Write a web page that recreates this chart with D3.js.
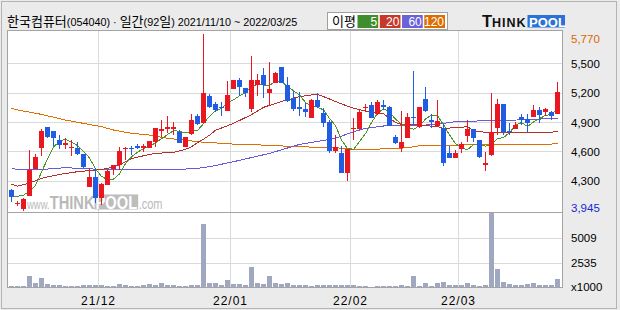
<!DOCTYPE html>
<html>
<head>
<meta charset="utf-8">
<script src="https://cdn.jsdelivr.net/npm/d3@7"></script>
<style>
  body { margin: 0; background: #ebebeb; }
  svg { display: block; }
  text { font-family: "Liberation Sans", Arial, "Noto Sans CJK KR", sans-serif; }
</style>
</head>
<body>
<div id="graf"></div>
<script>
// Datos (precio diario, 92 sesiones)
const opens = [4204,4062,4010,4146,4419,4637,4844,4807,4715,4664,
  4630,4637,4572,4238,4334,4119,4255,4419,4460,4620,
  4637,4654,4630,4637,4698,4808,4828,4830,4801,4640,
  4777,4960,4892,5166,5080,5057,5016,5237,5329,5251,
  5033,5278,5380,5200,5302,5462,5278,5142,5050,5033,
  4937,5125,4988,4896,4603,4586,4381,4830,4828,5040,
  5074,4978,5074,5057,4750,4630,4739,4954,4852,5135,
  4920,4862,4835,4579,4531,4623,4757,4828,4715,4460,
  4562,4835,5084,4808,4828,4954,4926,4954,5023,5006,
  4998,4978]
const highs = [4215,4090,4120,4613,4569,4828,4850,4810,4767,4733,
  4716,4698,4575,4425,4425,4272,4408,4460,4647,4644,
  4654,4671,4671,4705,4835,4920,4964,4903,4818,4743,
  4977,4977,5803,5183,5108,5108,5318,5329,5353,5251,
  5575,5387,5449,5517,5415,5462,5360,5217,5210,5091,
  5135,5193,5047,4920,4766,4657,4623,4937,5023,5081,
  5101,5125,5125,5064,4767,5013,4988,5421,5057,5258,
  4978,5125,4880,4657,4613,4698,4920,4828,4715,4596,
  5193,5135,5084,4886,4896,4978,4978,5074,5050,5047,
  5013,5306]
const lows = [4085,4038,3993,4146,4419,4552,4740,4650,4620,4623,
  4555,4562,4426,4238,4075,4051,4255,4357,4408,4510,
  4562,4620,4596,4630,4647,4750,4784,4767,4681,4640,
  4767,4869,4892,5040,5006,4964,5016,5237,5169,5152,
  4998,5166,5142,5060,5302,5295,5101,5013,4964,4954,
  4937,5047,4852,4579,4579,4374,4296,4715,4828,4998,
  4937,4971,5023,4862,4675,4596,4739,4869,4842,4998,
  4842,4862,4452,4528,4528,4579,4698,4692,4528,4401,
  4555,4767,4767,4767,4828,4869,4801,4954,4886,4964,
  4920,4978]
const closes = [4130,4072,4112,4408,4538,4807,4746,4732,4664,4681,
  4647,4569,4436,4334,4119,4265,4401,4460,4603,4637,
  4620,4630,4650,4705,4835,4825,4845,4845,4681,4743,
  4920,4879,5193,5057,5020,5050,5176,5329,5261,5193,
  5329,5329,5278,5237,5404,5302,5115,5033,5037,5006,
  5125,5057,4892,4603,4647,4381,4623,4840,5006,5057,
  4944,5101,5057,4862,4681,4698,4947,4937,5050,5016,
  4903,4910,4483,4528,4579,4671,4828,4733,4545,4483,
  4794,5084,4801,4794,4869,4920,4892,5023,4971,5033,
  4964,5203]
// Volumen en miles
const volumes = [229,229,229,1219,526,1021,427,328,328,229,
  229,229,328,328,328,300,229,229,427,328,
  229,229,328,427,328,526,328,328,229,229,
  328,328,6365,526,526,328,823,427,427,328,
  2110,526,427,1219,526,427,526,328,328,328,
  229,328,328,328,328,328,328,328,229,229,
  61,229,229,229,229,328,229,1150,229,526,
  229,526,625,328,328,328,526,328,229,328,
  7483,1912,625,427,328,328,427,526,328,328,
  328,922]
// Cierres previos estimados (para la media de 5)
const preCloses = [4050, 4050, 4220, 4230]
// Medias [índice, valor]
const ma20 = [[0,4262],[1,4245],[3,4275],[5,4325],[8,4364],[11,4392],[14,4408],[16,4425],[18,4460],[20,4525],
  [22,4555],[24,4579],[27,4590],[29,4620],[30,4647],[31,4690],[32,4725],[33,4765],[34,4815],[37,4886],
  [40,4975],[42,5050],[45,5110],[48,5159],[50,5176],[51,5180],[52,5160],[55,5085],[57,5040],[59,5013],
  [61,4998],[62,4985],[63,4940],[64,4895],[65,4876],[68,4869],[71,4852],[72,4835],[74,4842],[76,4852],
  [77,4810],[79,4794],[81,4791],[90,4794],[91,4808]]
const ma60 = [[0,4433],[1,4410],[6,4419],[9,4433],[15,4415],[24,4418],[29,4419],[31,4426],[33,4443],[37,4494],
  [43,4579],[48,4671],[54,4733],[57,4801],[59,4835],[62,4859],[64,4865],[69,4869],[72,4886],[74,4903],
  [79,4913],[86,4923],[91,4940]]
const ma120 = [[0,5040],[1,5023],[5,4978],[9,4920],[12,4886],[15,4852],[17,4818],[20,4784],[23,4767],[26,4733],
  [29,4715],[31,4698],[33,4690],[37,4674],[42,4664],[48,4647],[54,4637],[57,4623],[61,4623],[64,4630],
  [66,4637],[68,4657],[74,4664],[80,4671],[90,4674],[91,4684]]
// Ejes
const monthStarts = [15, 37, 57, 75]
const monthLabels = ['21/12', '22/01', '22/02', '22/03']
const priceTicks = [5500, 5200, 4900, 4600, 4300]
const priceMaxLabel = 5770
const priceMinLabel = 3945
const legendItems = ['5', '20', '60', '120']
const legendColors = ['#3f8e2b', '#c6392a', '#6a62d8', '#dc6e00']
const title = '한국컴퓨터(054040) · 일간(92일) 2021/11/10 ~ 2022/03/25'

const W = 620, H = 310
const panel = { left: 7.5, right: 562.5, top: 30.5, mid: 212.5, bottom: 287.5 }

const svg = d3.select('#graf').append('svg').attr('width', W).attr('height', H)

// Fondo
svg.append('rect').attr('x', 1.5).attr('y', 1.5).attr('width', 615).attr('height', 307)
  .attr('fill', '#ebebeb').attr('stroke', '#b4b4b4')
svg.append('rect').attr('x', panel.left).attr('y', panel.top)
  .attr('width', panel.right - panel.left).attr('height', panel.bottom - panel.top)
  .attr('fill', '#fff')

// Escalas
const x = d3.scaleLinear().domain([0, 91]).range([11.5, 557.5])
const y = d3.scaleLinear().domain([4300, 5500]).range([180.7, 63.3])
const yVol = d3.scaleLinear()
  .domain([d3.min(volumes), d3.max(volumes)])
  .range([panel.bottom, panel.mid])

const grid = svg.append('g').attr('stroke', '#dadada').attr('shape-rendering', 'crispEdges')
grid.selectAll('.hp').data(priceTicks).join('line')
  .attr('x1', panel.left).attr('x2', panel.right)
  .attr('y1', d => Math.round(y(d)) + 0.5).attr('y2', d => Math.round(y(d)) + 0.5)
const volTicks = [1, 2].map(k => d3.min(volumes) + (d3.max(volumes) - d3.min(volumes)) * k / 3)
grid.selectAll('.hv').data(volTicks).join('line')
  .attr('x1', panel.left).attr('x2', panel.right)
  .attr('y1', d => Math.round(yVol(d)) + 0.5).attr('y2', d => Math.round(yVol(d)) + 0.5)
grid.selectAll('.vm').data(monthStarts).join('line')
  .attr('x1', d => x(d) - 3).attr('x2', d => x(d) - 3)
  .attr('y1', panel.top).attr('y2', panel.bottom)

// Marca de agua (fuente estrecha estirada en vertical)
const wm = svg.append('g').attr('transform', 'translate(27, 209) scale(1, 1.3)')
const wmColor = '#b9b9b9'
const www = wm.append('text').attr('font-size', 9.5).attr('fill', wmColor).text('www.')
let wx = www.node().getComputedTextLength()
const think = wm.append('text').attr('x', wx).attr('font-size', 14.7).attr('font-weight', 'bold')
  .attr('fill', wmColor).text('THINK')
wx += think.node().getComputedTextLength()
const poolRect = wm.append('rect').attr('x', wx).attr('y', -11.2).attr('height', 11.6).attr('fill', '#bdbdbd')
const pool = wm.append('text').attr('x', wx + 1).attr('font-size', 14.7).attr('font-weight', 'bold')
  .attr('fill', '#fff').text('POOL')
const poolW = pool.node().getComputedTextLength()
poolRect.attr('width', poolW + 2)
wm.append('text').attr('x', wx + poolW + 2.5).attr('font-size', 11).attr('fill', wmColor).text('.com')

// Recorte
svg.append('clipPath').attr('id', 'clipMain').append('rect')
  .attr('x', panel.left).attr('y', panel.top).attr('width', panel.right - panel.left).attr('height', panel.mid - panel.top)
const main = svg.append('g').attr('clip-path', 'url(#clipMain)')

// Medias móviles
const allCloses = preCloses.concat(closes)
const ma5 = closes.map((c, i) => [i, d3.mean(allCloses.slice(i, i + 5))])
const line = d3.line().x(d => x(d[0])).y(d => y(d[1]))
const maSeries = [ma120, ma60, ma20, ma5]
const maColors = ['#e07000', '#6a5ad8', '#b8302a', '#4a9428']
main.selectAll('.ma').data(maSeries).join('path')
  .attr('d', line).attr('fill', 'none')
  .attr('stroke', (d, i) => maColors[i]).attr('stroke-width', 1)
  .attr('shape-rendering', 'crispEdges')

// Velas
const idx = d3.range(closes.length)
const col = i => closes[i] >= opens[i] ? '#ea1620' : '#1f5ee2'
const candles = main.append('g').attr('shape-rendering', 'crispEdges')
candles.selectAll('.wick').data(idx).join('line')
  .attr('x1', i => x(i)).attr('x2', i => x(i))
  .attr('y1', i => Math.round(y(highs[i]))).attr('y2', i => Math.round(y(lows[i])))
  .attr('stroke', col)
candles.selectAll('.body').data(idx).join('rect')
  .attr('x', i => x(i) - 2.5).attr('width', 5)
  .attr('y', i => Math.round(y(Math.max(opens[i], closes[i]))))
  .attr('height', i => Math.max(1, Math.round(y(Math.min(opens[i], closes[i]))) - Math.round(y(Math.max(opens[i], closes[i])))))
  .attr('fill', col)

// Volumen
svg.append('g').attr('shape-rendering', 'crispEdges').selectAll('rect').data(idx).join('rect')
  .attr('x', i => x(i) - 2.5).attr('width', 5)
  .attr('y', i => yVol(volumes[i])).attr('height', i => panel.bottom - yVol(volumes[i]))
  .attr('fill', '#a0a8c1')

// Bordes de panel
const frame = svg.append('g').attr('fill', 'none').attr('stroke', '#a4a4a4').attr('shape-rendering', 'crispEdges')
frame.append('rect').attr('x', panel.left).attr('y', panel.top)
  .attr('width', panel.right - panel.left).attr('height', panel.bottom - panel.top)
frame.append('line').attr('x1', panel.left).attr('x2', panel.right).attr('y1', panel.mid).attr('y2', panel.mid)

// Etiquetas de precio
const fmt = d3.format(',')
const priceLabels = [priceMaxLabel].concat(priceTicks, [priceMinLabel])
svg.selectAll('.pl').data(priceLabels).join('text')
  .attr('x', 571).attr('y', d => Math.min(Math.max(y(d), 38), 207) + 4.5)
  .attr('font-size', 11.5)
  .attr('fill', d => d === priceMaxLabel ? '#d86a00' : d === priceMinLabel ? '#1428d0' : '#000')
  .text(d => fmt(d))

// Etiquetas de volumen
svg.selectAll('.vl').data(volTicks.slice().reverse()).join('text')
  .attr('x', 571).attr('y', d => yVol(d) + 4.5).attr('font-size', 11.5)
  .text(d => Math.round(d))
svg.append('text').attr('x', 571).attr('y', panel.bottom + 3).attr('font-size', 11.5).text('x1000')

// Etiquetas de mes
svg.selectAll('.ml').data(monthStarts).join('text')
  .attr('x', d => x(d) - 3).attr('y', 305).attr('text-anchor', 'middle')
  .attr('font-size', 12).attr('letter-spacing', 1)
  .text((d, i) => monthLabels[i])

// Título
const t = svg.append('text').attr('x', 7).attr('y', 26)
title.split(/([\uac00-\ud7a3]+)/).filter(s => s).forEach(s => {
  const ko = /[\uac00-\ud7a3]/.test(s)
  t.append('tspan').attr('font-size', ko ? 13 : 10.8)
    .attr('font-family', ko ? '"Noto Sans CJK KR"' : null)
    .text(s)
})

// Leyenda
svg.append('rect').attr('x', 327.5).attr('y', 12.5).attr('width', 120).attr('height', 17)
  .attr('fill', '#fff').attr('stroke', '#a0a0a0')
svg.append('text').attr('x', 332).attr('y', 25.5).attr('font-size', 13)
  .attr('font-family', '"Noto Sans CJK KR"').text('이평')
const legX = d3.scaleBand().domain(legendItems).range([357.5, 445]).paddingInner(0.07)
const leg = svg.selectAll('.leg').data(legendItems).join('g')
leg.append('rect').attr('x', d => legX(d)).attr('y', 15).attr('width', legX.bandwidth()).attr('height', 13)
  .attr('fill', (d, i) => legendColors[i])
leg.append('text').attr('x', d => legX(d) + legX.bandwidth() - 1).attr('y', 26)
  .attr('text-anchor', 'end').attr('font-size', 12).attr('fill', '#fff').text(d => d)

// Logo
const logo = svg.append('text').attr('x', 482).attr('y', 27.3).attr('font-weight', 'bold').attr('fill', '#111')
logo.append('tspan').attr('font-size', 16.5).text('T')
logo.append('tspan').attr('font-size', 12.5).attr('letter-spacing', 1).text('HINK')
svg.append('rect').attr('x', 527.5).attr('y', 15).attr('width', 37.5).attr('height', 12.5).attr('fill', '#2a72d8')
svg.append('text').attr('x', 529).attr('y', 27).attr('font-size', 13).attr('font-weight', 'bold')
  .attr('fill', '#fff').text('POOL')
</script>
</body>
</html>
